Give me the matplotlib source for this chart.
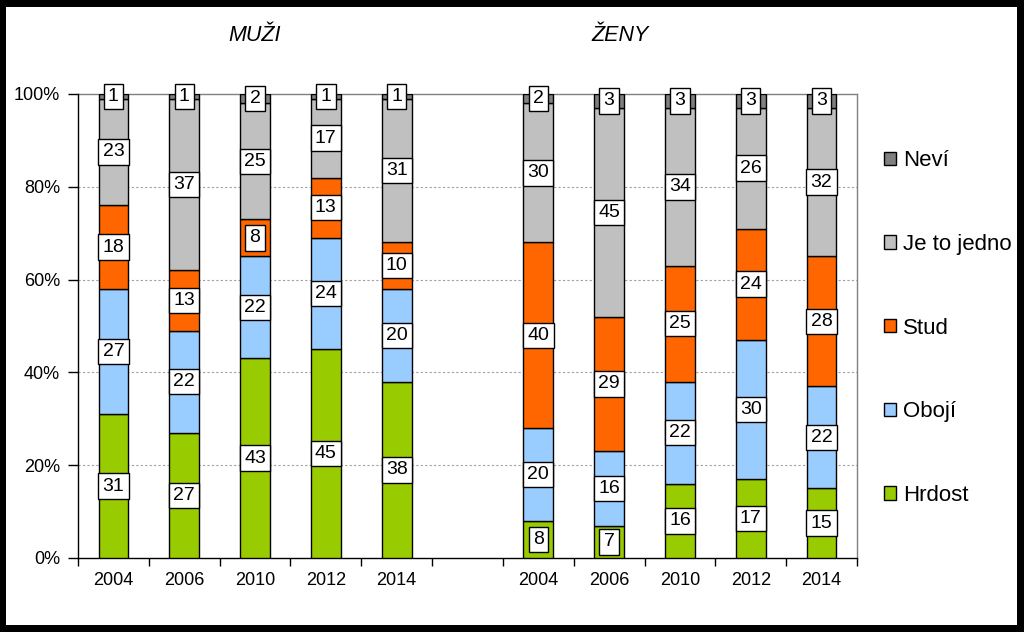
import matplotlib
matplotlib.use("Agg")
import matplotlib.pyplot as plt
from matplotlib.patches import Rectangle, Patch
import numpy as np

plt.rcParams['font.family'] = ['Liberation Sans', 'DejaVu Sans']

years = ["2004", "2006", "2010", "2012", "2014"]
groups = ["MUŽI", "ŽENY"]
series = ["Hrdost", "Obojí", "Stud", "Je to jedno", "Neví"]
colors = ["#99CC00", "#99CCFF", "#FF6600", "#C0C0C0", "#808080"]

# values per series, men (2004..2014) then women (2004..2014)
hrdost_m = [31, 27, 43, 45, 38]
oboji_m = [27, 22, 22, 24, 20]
stud_m = [18, 13, 8, 13, 10]
jedno_m = [23, 37, 25, 17, 31]
nevi_m = [1, 1, 2, 1, 1]

hrdost_z = [8, 7, 16, 17, 15]
oboji_z = [20, 16, 22, 30, 22]
stud_z = [40, 29, 25, 24, 28]
jedno_z = [30, 45, 34, 26, 32]
nevi_z = [2, 3, 3, 3, 3]

data = np.array([
    hrdost_m + hrdost_z,
    oboji_m + oboji_z,
    stud_m + stud_z,
    jedno_m + jedno_z,
    nevi_m + nevi_z,
], dtype=float)

xpos = np.array([0, 1, 2, 3, 4, 6, 7, 8, 9, 10])
xlabels = years + years

fig = plt.figure(figsize=(10.24, 6.32), dpi=100)
fig.patch.set_facecolor("black")
fig.patches.append(Rectangle((6 / 1024, 7 / 632), (1017 - 6) / 1024, (625 - 7) / 632,
                             transform=fig.transFigure, facecolor="white",
                             edgecolor="none", zorder=-10))

ax = fig.add_axes([78 / 1024, 1 - 558 / 632, (857 - 78) / 1024, (558 - 94) / 632])
ax.set_zorder(2)
ax.set_facecolor("white")

totals = data.sum(axis=0)
frac = data / totals
bottom = np.zeros(len(xpos))
width = 0.42
for i, (name, col) in enumerate(zip(series, colors)):
    ax.bar(xpos, frac[i], width, bottom=bottom, color=col, edgecolor="black",
           linewidth=1.0, zorder=3, label=name)
    for x, b, h, v in zip(xpos, bottom, frac[i], data[i]):
        ax.text(x, b + h / 2, f"{int(v)}", ha="center", va="center", fontsize=14,
                zorder=5,
                bbox=dict(boxstyle="square,pad=0.22", facecolor="white",
                          edgecolor="black", linewidth=1.0))
    bottom += frac[i]

ax.set_xlim(-0.5, 10.5)
ax.set_ylim(0, 1)
ax.set_yticks([0, 0.2, 0.4, 0.6, 0.8, 1.0])
ax.set_yticklabels(["0%", "20%", "40%", "60%", "80%", "100%"], fontsize=13)
ax.tick_params(axis="y", direction="out", length=7, width=1, pad=6, color="black")

ax.set_xticks(np.arange(-0.5, 11, 1.0))
ax.set_xticklabels([])
ax.tick_params(axis="x", which="major", direction="out", length=6, width=1, color="black")
ax.set_xticks(xpos, minor=True)
ax.set_xticklabels(xlabels, minor=True, fontsize=13)
ax.tick_params(axis="x", which="minor", length=0, pad=10)

for y in [0.2, 0.4, 0.6, 0.8]:
    ax.axhline(y, color="#A0A0A0", linewidth=0.8, linestyle=(0, (2, 2)), zorder=1)

ax.spines["left"].set_color("black")
ax.spines["bottom"].set_color("black")
ax.spines["top"].set_color("#808080")
ax.spines["right"].set_color("#808080")
for s in ax.spines.values():
    s.set_linewidth(1.0)
ax.spines["top"].set_zorder(2)

ax.text(2.0, 1.127, groups[0], transform=ax.get_xaxis_transform(), ha="center",
        va="center", fontsize=15.5, style="italic")
ax.text(7.15, 1.127, groups[1], transform=ax.get_xaxis_transform(), ha="center",
        va="center", fontsize=15.5, style="italic")

handles = [Patch(facecolor=c, edgecolor="black", linewidth=1.0) for c in colors][::-1]
labels = series[::-1]
leg = fig.legend(handles, labels, loc="center left", bbox_to_anchor=(864 / 1024, 1 - 328 / 632),
                 frameon=False, fontsize=16, handlelength=0.55, handleheight=0.55,
                 handletextpad=0.3, labelspacing=2.82)
leg.set_zorder(3)

fig.savefig("out.png", dpi=100, facecolor=fig.get_facecolor())
